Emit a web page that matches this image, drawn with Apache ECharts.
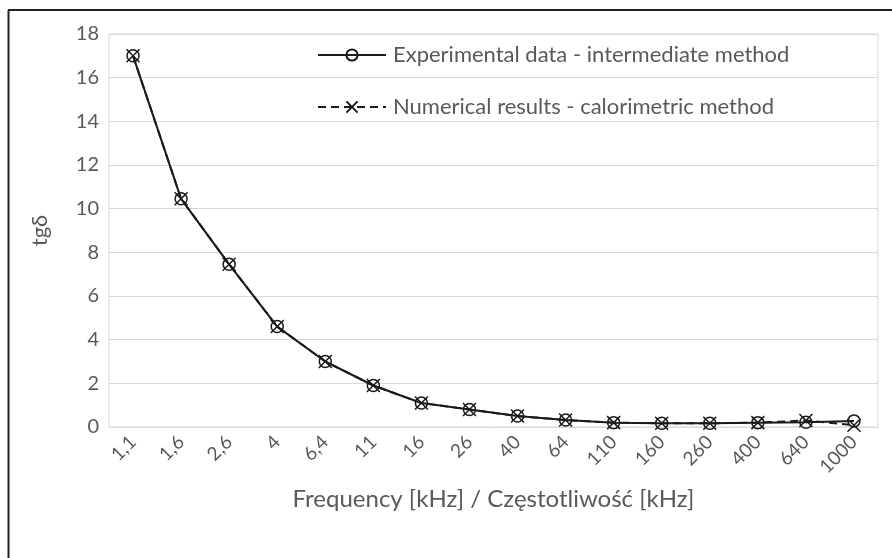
<!DOCTYPE html>
<html>
<head>
<meta charset="utf-8">
<script src="https://cdn.jsdelivr.net/npm/echarts@6/dist/echarts.min.js"></script>
<style>
  html, body { margin: 0; padding: 0; background: #fff; }
  #chart { width: 892px; height: 558px; }
</style>
</head>
<body>
<div id="chart"></div>
<script>
// frequency categories (kHz)
var freqLabels = ['1,1', '1,6', '2,6', '4', '6,4', '11', '16', '26', '40', '64', '110', '160', '260', '400', '640', '1000'];
// experimental data - intermediate method
var expData = [17.0, 10.45, 7.45, 4.6, 3.0, 1.9, 1.1, 0.8, 0.5, 0.32, 0.2, 0.17, 0.17, 0.2, 0.22, 0.28];
// numerical results - calorimetric method
var numData = [17.0, 10.45, 7.45, 4.6, 3.0, 1.9, 1.1, 0.8, 0.5, 0.32, 0.2, 0.17, 0.17, 0.2, 0.3, 0.08];

var FONT = 'Lato';
var txtColor = '#595959';
var crossPath = 'path://M0,0L10,10M10,0L0,10';

var chart = echarts.init(document.getElementById('chart'));
var option = {
    backgroundColor: '#fff',
    animation: false,
    textStyle: { fontFamily: FONT },
    graphic: [
        // outer frame (cropped at right / bottom)
        { type: 'line', shape: { x1: 8.5, y1: 10, x2: 8.5, y2: 558 }, style: { stroke: '#222', lineWidth: 2 } },
        { type: 'line', shape: { x1: 8, y1: 10, x2: 892, y2: 10 }, style: { stroke: '#222', lineWidth: 2 } }
    ],
    grid: {
        left: 109, right: 14, top: 34, bottom: 131,
        show: true, borderColor: '#d9d9d9', borderWidth: 1
    },
    legend: {
        orient: 'vertical',
        left: 312, top: 39,
        itemWidth: 68, itemHeight: 14, itemGap: 30,
        textStyle: { fontFamily: FONT, fontSize: 22, color: txtColor, padding: [0, 0, 0, 2] },
        data: ['Experimental data - intermediate method', 'Numerical results - calorimetric method']
    },
    xAxis: {
        type: 'category',
        data: freqLabels,
        boundaryGap: true,
        axisLine: { lineStyle: { color: '#d9d9d9' } },
        axisTick: { show: false },
        axisLabel: { rotate: 45, fontSize: 19, color: txtColor, margin: 12, fontFamily: FONT },
        name: 'Frequency [kHz] / Częstotliwość [kHz]',
        nameLocation: 'middle',
        nameGap: 60,
        nameTextStyle: { fontSize: 24, color: txtColor, fontFamily: FONT }
    },
    yAxis: {
        type: 'value',
        min: 0, max: 18, interval: 2,
        axisLine: { show: false },
        axisTick: { show: false },
        splitLine: { lineStyle: { color: '#d9d9d9', width: 1 } },
        axisLabel: { fontSize: 20, color: txtColor, margin: 10, fontFamily: FONT },
        name: 'tgδ',
        nameLocation: 'middle',
        nameGap: 58,
        nameTextStyle: { fontSize: 22, color: txtColor, fontFamily: FONT }
    },
    series: [
        {
            name: 'Experimental data - intermediate method',
            type: 'line',
            data: expData,
            symbol: 'circle',
            symbolSize: 12,
            z: 2,
            lineStyle: { color: '#1a1a1a', width: 2, type: 'solid' },
            itemStyle: { color: 'transparent', borderColor: '#1a1a1a', borderWidth: 1.5 }
        },
        {
            name: 'Numerical results - calorimetric method',
            type: 'line',
            data: numData,
            symbol: crossPath,
            symbolSize: 13,
            z: 3,
            lineStyle: { color: '#1a1a1a', width: 2, type: [8, 5] },
            itemStyle: { color: 'transparent', borderColor: '#1a1a1a', borderWidth: 1.5 }
        }
    ]
};
chart.setOption(option);
window.addEventListener('resize', chart.resize);
</script>
</body>
</html>
